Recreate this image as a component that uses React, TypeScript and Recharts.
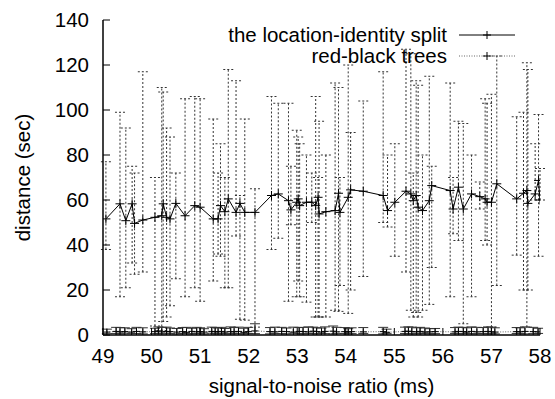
import React from 'react';
import { LineChart, Line, XAxis, YAxis, ErrorBar, Legend } from 'recharts';

const FONT = '"Liberation Sans", Arial, Helvetica, sans-serif';

const xTicks = [49, 50, 51, 52, 53, 54, 55, 56, 57, 58];
const yTicks = [0, 20, 40, 60, 80, 100, 120, 140];

const seriesNames = ['the location-identity split', 'red-black trees'];

// the location-identity split
const mainX = [49.06, 49.35, 49.47, 49.6, 49.65, 49.82, 50.07, 50.21, 50.24, 50.31, 50.38, 50.5, 50.69, 50.89, 51.0, 51.27, 51.37, 51.42, 51.51, 51.58, 51.74, 51.82, 51.92, 52.13, 52.47, 52.61, 52.82, 52.87, 52.99, 53.02, 53.05, 53.19, 53.3, 53.38, 53.43, 53.45, 53.59, 53.78, 53.85, 53.88, 54.05, 54.1, 54.36, 54.77, 54.86, 55.01, 55.24, 55.34, 55.39, 55.45, 55.49, 55.58, 55.72, 55.77, 56.15, 56.21, 56.32, 56.42, 56.59, 56.76, 56.87, 56.91, 57.0, 57.11, 57.52, 57.66, 57.73, 57.75, 57.9, 57.97, 58.0];
const mainY = [51.6, 58.3, 50.8, 58.3, 49.6, 51.1, 52.3, 53, 58.3, 52.3, 51.6, 58.5, 53, 57.5, 56.8, 51.6, 51.6, 57.5, 54.8, 60.5, 54.5, 58.5, 54.5, 54.5, 62, 62.7, 59.7, 55.6, 59, 60.5, 57.5, 59, 59, 57.5, 61.2, 53.8, 54.8, 55.3, 63, 54.5, 61.2, 64.5, 63.9, 62, 55.3, 59, 63.9, 62.7, 59.7, 62, 56.8, 55.3, 59.7, 66.4, 64.2, 56, 65.7, 56, 62.7, 61.5, 60.5, 59, 59, 67.2, 60.5, 63, 64.2, 58.5, 62.7, 68.7, 60];
const mainLo = [38, 17, 21, 32, 27, 28, 4, 2, 6, 8, 13, 25, 17, 21, 15, 24, 36, 35, 21, 21, 44, 7, 6.6, 3.5, 38, 43, 15, 49, 17, 24, 17, 14.6, 50, 8, 8, 8, 8, 11, 10.5, 22, 9.6, 20, 26, 50, 48, 35, 28, 11, 8, 10, 8, 11, 13.6, 30, 17, 45, 42, 5, 17, 56, 42, 40, 3.5, 22, 35.5, 20, 3.5, 20, 60, 35, 60];
const mainHi = [77, 99, 92, 75, 72, 117, 70, 110, 108, 92, 88, 72, 105, 106, 105, 96, 72, 85, 70, 118, 113, 62, 96, 65, 106, 103, 103, 75, 91, 88, 85, 80, 72, 106, 70, 95, 80, 112, 110, 70, 120, 90, 104, 117, 80, 85, 127, 125, 72, 113, 111, 80, 115, 75, 112, 70, 95, 94, 80, 68, 105, 103, 107, 124, 97, 99, 121, 118, 85, 98, 74];

// red-black trees
const rbX = [49.08, 49.27, 49.35, 49.45, 49.59, 49.69, 49.82, 50.07, 50.14, 50.21, 50.31, 50.38, 50.52, 50.64, 50.72, 50.83, 50.93, 51.0, 51.08, 51.24, 51.31, 51.37, 51.44, 51.51, 51.63, 51.7, 51.79, 51.9, 51.99, 52.13, 52.44, 52.54, 52.68, 52.78, 52.92, 53.04, 53.12, 53.23, 53.33, 53.4, 53.5, 53.57, 53.74, 53.81, 53.98, 54.05, 54.12, 54.36, 54.77, 54.84, 55.22, 55.29, 55.36, 55.46, 55.53, 55.63, 55.73, 55.84, 56.25, 56.32, 56.42, 56.49, 56.59, 56.7, 56.83, 56.93, 57.0, 57.07, 57.52, 57.59, 57.69, 57.86, 57.96];
const rbY = [1.3, 1.6, 1.4, 1.5, 1.3, 1.6, 1.4, 1.5, 1.8, 1.4, 1.6, 1.5, 1.3, 1.5, 1.2, 1.6, 1.4, 1.5, 1.3, 1.6, 1.5, 1.4, 1.6, 1.3, 1.5, 1.4, 1.6, 1.2, 1.5, 1.8, 1.5, 1.4, 1.6, 1.5, 1.3, 1.6, 1.5, 1.4, 1.7, 1.5, 1.3, 1.6, 1.7, 1.4, 1.5, 1.3, 1.5, 1.4, 1.5, 1.2, 1.6, 1.7, 1.5, 1.4, 1.6, 1.3, 1.4, 1.5, 1.4, 1.6, 1.5, 1.3, 1.6, 1.4, 1.5, 1.6, 1.4, 1.3, 1.5, 1.4, 1.6, 1.5, 1.4];
const rbLo = [0.6, 0.7, 0.5, 0.8, 0.6, 0.7, 0.5, 0.6, 0.7, 0.5, 0.8, 0.6, 0.5, 0.7, 0.6, 0.5, 0.7, 0.6, 0.5, 0.8, 0.6, 0.5, 0.7, 0.6, 0.5, 0.7, 0.6, 0.5, 0.7, 0.6, 0.5, 0.7, 0.6, 0.5, 0.8, 0.6, 0.5, 0.7, 0.6, 0.5, 0.7, 0.6, 0.5, 0.6, 0.7, 0.5, 0.6, 0.7, 0.5, 0.6, 0.7, 0.5, 0.6, 0.5, 0.7, 0.6, 0.5, 0.6, 0.7, 0.5, 0.6, 0.7, 0.5, 0.6, 0.7, 0.5, 0.6, 0.5, 0.7, 0.6, 0.5, 0.6, 0.7];
const rbHi = [2.6, 3.4, 3.3, 3.2, 2.8, 3.4, 3.2, 3.0, 3.6, 3.4, 3.5, 3.1, 2.9, 3.3, 3.4, 3.0, 3.4, 3.2, 2.8, 3.5, 3.3, 3.1, 3.4, 2.9, 3.6, 3.3, 3.5, 3.0, 3.4, 5.0, 3.3, 3.5, 3.4, 3.1, 3.5, 3.3, 3.4, 3.6, 3.5, 3.2, 3.1, 3.6, 4.0, 3.4, 3.3, 2.8, 3.2, 3.3, 3.4, 2.6, 3.5, 3.6, 3.5, 3.2, 3.4, 3.1, 2.8, 2.9, 3.3, 3.5, 3.4, 3.2, 3.6, 3.4, 3.3, 3.6, 3.5, 3.2, 3.3, 3.2, 3.6, 3.4, 3.0];

const mainData = mainX.map((x, i) => ({ x, y: mainY[i], err: [mainY[i] - mainLo[i], mainHi[i] - mainY[i]] }));
const rbData = rbX.map((x, i) => ({ x, y: rbY[i], err: [rbY[i] - rbLo[i], rbHi[i] - rbY[i]] }));

const plus = (size: number, color: string) => (props: any) => {
  const { cx, cy, key, index } = props;
  if (cx == null || cy == null) return <g key={key ?? index} />;
  return (
    <path
      key={key ?? `p-${index}`}
      d={`M${cx - size},${cy}H${cx + size}M${cx},${cy - size}V${cy + size}`}
      stroke={color}
      strokeWidth={1}
      fill="none"
    />
  );
};

const renderLegend = () => (
  <div style={{ position: 'relative', width: 555, height: 0, fontFamily: FONT, fontSize: 20.5, color: '#000' }}>
    {[0, 1].map((i) => (
      <React.Fragment key={i}>
        <div
          style={{
            position: 'absolute',
            right: 555 - 447,
            top: (i === 0 ? 34.5 : 56) - 12,
            lineHeight: '24px',
            whiteSpace: 'nowrap',
          }}
        >
          {seriesNames[i]}
        </div>
        <svg
          width={60}
          height={12}
          style={{ position: 'absolute', left: 457, top: (i === 0 ? 34.5 : 56) - 6 }}
        >
          <line
            x1={2}
            x2={58}
            y1={6}
            y2={6}
            stroke={i === 0 ? '#000' : '#666'}
            strokeWidth={1}
            strokeDasharray={i === 0 ? undefined : '1 1.5'}
          />
          <path d="M30,2V10M26,6H34" stroke="#000" strokeWidth={1} />
        </svg>
      </React.Fragment>
    ))}
  </div>
);

const tickStyle = { fill: '#000', fontSize: 20.5, fontFamily: FONT };

export default function App() {
  return (
    <div style={{ position: 'absolute', left: 0, top: 0, width: 555, height: 399, background: '#fff' }}>
      <LineChart
        width={555}
        height={399}
        margin={{ top: 20, right: 15, bottom: 0, left: 0 }}
      >
        <XAxis
          xAxisId="b"
          dataKey="x"
          type="number"
          domain={[49, 58]}
          ticks={xTicks}
          allowDataOverflow
          height={64}
          tickSize={-7}
          tickMargin={20}
          tick={tickStyle}
          stroke="#000"
          strokeWidth={1.5}
          tickLine={{ stroke: '#000', strokeWidth: 1 }}
          label={{
            content: () => (
              <text x={321.5} y={385} textAnchor="middle" dominantBaseline="central" fontSize={20.5} fontFamily={FONT} fill="#000">
                signal-to-noise ratio (ms)
              </text>
            ),
          }}
        />
        <XAxis
          xAxisId="t"
          dataKey="x"
          type="number"
          orientation="top"
          domain={[49, 58]}
          ticks={xTicks}
          allowDataOverflow
          height={0}
          tickSize={-7}
          tick={false}
          stroke="#000"
          strokeWidth={1.5}
          tickLine={{ stroke: '#000', strokeWidth: 1 }}
        />
        <YAxis
          yAxisId="l"
          type="number"
          domain={[0, 140]}
          ticks={yTicks}
          allowDataOverflow
          width={103}
          tickSize={-7}
          tickMargin={21}
          tick={tickStyle}
          stroke="#000"
          strokeWidth={1.5}
          tickLine={{ stroke: '#000', strokeWidth: 1 }}
          label={{
            content: () => (
              <text
                x={22}
                y={177.5}
                transform="rotate(-90 22 177.5)"
                textAnchor="middle"
                dominantBaseline="central"
                fontSize={20.5}
                fontFamily={FONT}
                fill="#000"
              >
                distance (sec)
              </text>
            ),
          }}
        />
        <YAxis
          yAxisId="r"
          type="number"
          orientation="right"
          domain={[0, 140]}
          ticks={yTicks}
          allowDataOverflow
          width={0}
          tickSize={-7}
          tick={false}
          stroke="#000"
          strokeWidth={1.5}
          tickLine={{ stroke: '#000', strokeWidth: 1 }}
        />
        <Legend
          layout="vertical"
          verticalAlign="middle"
          align="center"
          content={renderLegend}
          wrapperStyle={{ position: 'absolute', left: 0, top: 0, width: 555, height: 0 }}
        />
        <Line
          xAxisId="b"
          yAxisId="l"
          data={mainData}
          dataKey="y"
          name={seriesNames[0]}
          stroke="#000"
          strokeWidth={1}
          dot={plus(4.5, '#000')}
          activeDot={false}
          isAnimationActive={false}
        >
          <ErrorBar dataKey="err" direction="y" width={5} stroke="#333" strokeWidth={1} strokeDasharray="2 2" isAnimationActive={false} />
        </Line>
        <Line
          xAxisId="b"
          yAxisId="l"
          data={rbData}
          dataKey="y"
          name={seriesNames[1]}
          stroke="#666"
          strokeWidth={1}
          strokeDasharray="1 1.5"
          dot={plus(3.5, '#000')}
          activeDot={false}
          isAnimationActive={false}
        >
          <ErrorBar dataKey="err" direction="y" width={5} stroke="#333" strokeWidth={1} isAnimationActive={false} />
        </Line>
      </LineChart>
    </div>
  );
}
